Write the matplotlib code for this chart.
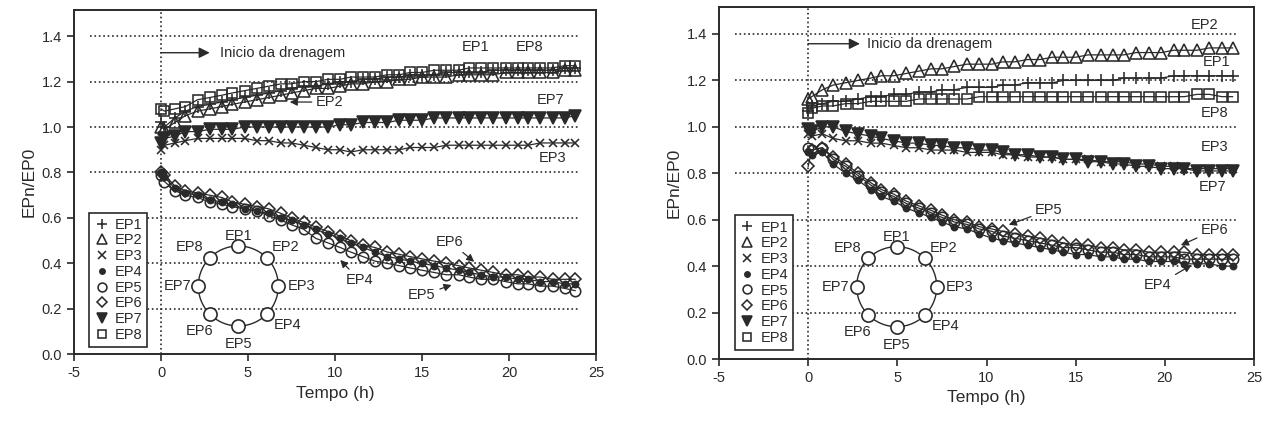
import matplotlib
matplotlib.use("Agg")
import matplotlib.pyplot as plt
import numpy as np

plt.rcParams['font.family'] = ['Liberation Sans', 'DejaVu Sans']
plt.rcParams['axes.unicode_minus'] = False

# tempo (h) das leituras
tempo = [0.0, 0.2, 0.8, 1.4, 2.1, 2.8, 3.5, 4.1, 4.8, 5.5, 6.2, 6.9, 7.5, 8.2, 8.9,
         9.6, 10.3, 10.9, 11.6, 12.3, 13.0, 13.7, 14.3, 15.0, 15.7, 16.4, 17.1, 17.7,
         18.4, 19.1, 19.8, 20.5, 21.1, 21.8, 22.5, 23.2, 23.8]

# ensaio da esquerda
ep1_a = [1.02, 1.00, 1.04, 1.07, 1.09, 1.10, 1.11, 1.12, 1.13, 1.14, 1.15, 1.16, 1.17, 1.18, 1.18,
         1.19, 1.20, 1.20, 1.21, 1.21, 1.22, 1.22, 1.23, 1.23, 1.23, 1.24, 1.24, 1.24, 1.24, 1.25,
         1.25, 1.25, 1.25, 1.25, 1.25, 1.26, 1.26]
ep2_a = [1.00, 0.99, 1.02, 1.05, 1.07, 1.08, 1.09, 1.10, 1.11, 1.12, 1.13, 1.14, 1.15, 1.16, 1.17,
         1.17, 1.18, 1.19, 1.19, 1.20, 1.20, 1.21, 1.21, 1.22, 1.22, 1.22, 1.23, 1.23, 1.23, 1.23,
         1.24, 1.24, 1.24, 1.24, 1.24, 1.25, 1.25]
ep3_a = [0.90, 0.92, 0.93, 0.94, 0.95, 0.95, 0.95, 0.95, 0.95, 0.94, 0.94, 0.93, 0.93, 0.92, 0.91,
         0.90, 0.90, 0.89, 0.90, 0.90, 0.90, 0.90, 0.91, 0.91, 0.91, 0.92, 0.92, 0.92, 0.92, 0.92,
         0.92, 0.92, 0.92, 0.93, 0.93, 0.93, 0.93]
ep4_a = [0.80, 0.78, 0.73, 0.71, 0.70, 0.68, 0.67, 0.66, 0.64, 0.63, 0.62, 0.60, 0.59, 0.57, 0.55,
         0.53, 0.51, 0.49, 0.47, 0.45, 0.43, 0.42, 0.41, 0.40, 0.39, 0.38, 0.37, 0.36, 0.35, 0.34,
         0.34, 0.33, 0.33, 0.32, 0.32, 0.31, 0.31]
ep5_a = [0.79, 0.76, 0.72, 0.70, 0.69, 0.67, 0.66, 0.65, 0.64, 0.63, 0.61, 0.59, 0.57, 0.55, 0.51,
         0.49, 0.47, 0.45, 0.43, 0.41, 0.40, 0.39, 0.38, 0.37, 0.36, 0.35, 0.35, 0.34, 0.33, 0.33,
         0.32, 0.31, 0.31, 0.30, 0.30, 0.29, 0.28]
ep6_a = [0.80, 0.79, 0.74, 0.72, 0.71, 0.70, 0.69, 0.67, 0.66, 0.65, 0.64, 0.62, 0.60, 0.58, 0.56,
         0.54, 0.52, 0.50, 0.48, 0.47, 0.45, 0.44, 0.43, 0.42, 0.41, 0.40, 0.39, 0.38, 0.37, 0.36,
         0.35, 0.35, 0.34, 0.34, 0.33, 0.33, 0.33]
ep7_a = [0.93, 0.95, 0.96, 0.98, 0.98, 0.99, 0.99, 0.99, 1.00, 1.00, 1.00, 1.00, 1.00, 1.00, 1.00,
         1.00, 1.01, 1.01, 1.02, 1.02, 1.02, 1.03, 1.03, 1.03, 1.04, 1.04, 1.04, 1.04, 1.04, 1.04,
         1.04, 1.04, 1.04, 1.04, 1.04, 1.04, 1.05]
ep8_a = [1.08, 1.07, 1.08, 1.09, 1.12, 1.13, 1.14, 1.15, 1.16, 1.17, 1.18, 1.19, 1.19, 1.20, 1.20,
         1.21, 1.21, 1.22, 1.22, 1.22, 1.23, 1.23, 1.24, 1.24, 1.25, 1.25, 1.25, 1.26, 1.26, 1.26,
         1.26, 1.26, 1.26, 1.26, 1.26, 1.27, 1.27]

# ensaio da direita
ep1_b = [1.07, 1.09, 1.10, 1.11, 1.11, 1.12, 1.13, 1.13, 1.14, 1.14, 1.15, 1.15, 1.16, 1.16, 1.17,
         1.17, 1.17, 1.18, 1.18, 1.19, 1.19, 1.19, 1.20, 1.20, 1.20, 1.20, 1.20, 1.21, 1.21, 1.21,
         1.21, 1.22, 1.22, 1.22, 1.22, 1.22, 1.22]
ep2_b = [1.12, 1.13, 1.16, 1.18, 1.19, 1.20, 1.21, 1.22, 1.22, 1.23, 1.24, 1.25, 1.25, 1.26, 1.27,
         1.27, 1.27, 1.28, 1.28, 1.29, 1.29, 1.30, 1.30, 1.30, 1.31, 1.31, 1.31, 1.31, 1.32, 1.32,
         1.32, 1.33, 1.33, 1.33, 1.34, 1.34, 1.34]
ep3_b = [0.97, 0.96, 0.97, 0.95, 0.94, 0.94, 0.93, 0.93, 0.92, 0.91, 0.91, 0.90, 0.90, 0.90, 0.89,
         0.89, 0.89, 0.88, 0.88, 0.87, 0.87, 0.87, 0.86, 0.86, 0.86, 0.85, 0.85, 0.85, 0.84, 0.84,
         0.83, 0.83, 0.82, 0.82, 0.82, 0.82, 0.82]
ep4_b = [0.89, 0.88, 0.89, 0.84, 0.80, 0.77, 0.73, 0.70, 0.68, 0.65, 0.63, 0.61, 0.59, 0.57, 0.56,
         0.54, 0.52, 0.51, 0.50, 0.49, 0.48, 0.47, 0.46, 0.45, 0.45, 0.44, 0.44, 0.43, 0.43, 0.42,
         0.42, 0.42, 0.41, 0.41, 0.41, 0.40, 0.40]
ep5_b = [0.91, 0.90, 0.91, 0.86, 0.83, 0.79, 0.75, 0.72, 0.70, 0.67, 0.65, 0.63, 0.61, 0.59, 0.58,
         0.56, 0.55, 0.53, 0.52, 0.51, 0.50, 0.49, 0.48, 0.48, 0.47, 0.46, 0.46, 0.45, 0.45, 0.44,
         0.44, 0.44, 0.43, 0.43, 0.43, 0.43, 0.43]
ep6_b = [0.83, 0.90, 0.91, 0.87, 0.84, 0.80, 0.76, 0.73, 0.71, 0.68, 0.66, 0.64, 0.62, 0.60, 0.59,
         0.57, 0.56, 0.55, 0.54, 0.53, 0.52, 0.51, 0.50, 0.49, 0.49, 0.48, 0.48, 0.47, 0.47, 0.46,
         0.46, 0.46, 0.46, 0.45, 0.45, 0.45, 0.45]
ep7_b = [0.99, 0.98, 1.00, 1.00, 0.98, 0.97, 0.96, 0.95, 0.94, 0.93, 0.93, 0.92, 0.92, 0.91, 0.91,
         0.90, 0.90, 0.89, 0.88, 0.88, 0.87, 0.87, 0.86, 0.86, 0.85, 0.85, 0.84, 0.84, 0.83, 0.83,
         0.82, 0.82, 0.82, 0.81, 0.81, 0.81, 0.81]
ep8_b = [1.06, 1.08, 1.09, 1.09, 1.10, 1.10, 1.11, 1.11, 1.11, 1.11, 1.12, 1.12, 1.12, 1.12, 1.12,
         1.13, 1.13, 1.13, 1.13, 1.13, 1.13, 1.13, 1.13, 1.13, 1.13, 1.13, 1.13, 1.13, 1.13, 1.13,
         1.13, 1.13, 1.13, 1.14, 1.14, 1.13, 1.13]

nomes = ['EP1', 'EP2', 'EP3', 'EP4', 'EP5', 'EP6', 'EP7', 'EP8']

INK = '#2a2a2a'
W, H = 1267, 423

# (marker, size, filled)
estilos = [('+', 9, False), ('^', 8, False), ('x', 6, False), ('o', 4.5, True),
           ('o', 7.5, False), ('D', 6, False), ('v', 8, True), ('s', 7, False)]


def draw_ring(fig, cx, cy):
    # pequeno esquema com os 8 piezometros, em pixels
    r = 40
    ax = fig.add_axes([(cx - 90) / W, (H - cy - 90) / H, 180 / W, 180 / H])
    ax.set_xlim(-90, 90)
    ax.set_ylim(-90, 90)
    ax.axis('off')
    ax.patch.set_alpha(0)
    ang = np.linspace(0, 2 * np.pi, 200)
    ax.plot(r * np.cos(ang), r * np.sin(ang), color=INK, lw=1.0)
    a8 = np.pi / 2 - np.arange(8) * np.pi / 4
    ax.plot(r * np.cos(a8), r * np.sin(a8), 'o', ms=9.5, mfc='white', mec=INK, mew=1.2)
    pos = [(0, 50, 'center'), (33, 39, 'left'), (49, 0, 'left'), (35, -39, 'left'),
           (0, -58, 'center'), (-25, -45, 'right'), (-47, 0, 'right'), (-35, 39, 'right')]
    for (x, y, ha), n in zip(pos, nomes):
        ax.text(x, y, n, ha=ha, va='center', fontsize=10.5, color=INK)


def painel(ax, series, rect_leg):
    for y, (m, s, f), n in zip(series, estilos, nomes):
        ax.plot(tempo, y, color=INK, lw=0.9, marker=m, ms=s,
                mfc=INK if f else 'none', mec=INK, mew=1.15, label=n)
    ax.set_xlim(-5, 25)
    ax.set_ylim(0, 1.515)
    ax.set_xticks([-5, 0, 5, 10, 15, 20, 25])
    ax.set_yticks(np.arange(0, 1.41, 0.2))
    ax.set_yticklabels(['0.0', '0.2', '0.4', '0.6', '0.8', '1.0', '1.2', '1.4'])
    for yv in np.arange(0.2, 1.41, 0.2):
        ax.axhline(yv, xmin=0.03, xmax=0.97, color=INK, ls=':', lw=1.2)
    ax.axvline(0, color=INK, ls=':', lw=1.2)
    for sp in ax.spines.values():
        sp.set_color(INK)
        sp.set_linewidth(1.4)
    ax.tick_params(direction='out', length=5, width=1.2, color=INK,
                   labelsize=10.5, labelcolor=INK)
    ax.set_xlabel('Tempo (h)', fontsize=12.5, color=INK)
    ax.set_ylabel('EPn/EP0', fontsize=12.5, color=INK)
    leg = ax.legend(loc='lower left', bbox_to_anchor=rect_leg, borderaxespad=0,
                    fontsize=10.5, handlelength=1.0, handletextpad=0.4, labelspacing=0.12,
                    borderpad=0.35, markerscale=0.85, fancybox=False, edgecolor=INK,
                    framealpha=1)
    leg.get_frame().set_linewidth(1.2)
    for h in leg.legend_handles:
        h.set_linestyle('none')
    for t in leg.get_texts():
        t.set_color(INK)


def seta(ax, txt, xytext, xy):
    ax.annotate(txt, xy=xy, xytext=xytext, ha='center', va='center', fontsize=10.5, color=INK,
                arrowprops=dict(arrowstyle='-|>', color=INK, lw=0.9, mutation_scale=11,
                                shrinkA=1, shrinkB=0))


fig = plt.figure(figsize=(W / 100, H / 100), dpi=100)
ax1 = fig.add_axes([74 / W, (H - 354.3) / H, 522 / W, 344.3 / H])
ax2 = fig.add_axes([719 / W, (H - 359) / H, 535 / W, 351.7 / H])

painel(ax1, [ep1_a, ep2_a, ep3_a, ep4_a, ep5_a, ep6_a, ep7_a, ep8_a], (0.029, 0.021))
painel(ax2, [ep1_b, ep2_b, ep3_b, ep4_b, ep5_b, ep6_b, ep7_b, ep8_b], (0.030, 0.026))

# inicio da drenagem
for ax, y, xa, xt in [(ax1, 1.327, 2.8, 3.4), (ax2, 1.358, 2.9, 3.3)]:
    ax.annotate('', xy=(xa, y), xytext=(0, y),
                arrowprops=dict(arrowstyle='-|>', color=INK, lw=1.0, mutation_scale=16,
                                shrinkA=0, shrinkB=0))
    ax.text(xt, y, 'Inicio da drenagem', ha='left', va='center', fontsize=10.5, color=INK)

for x, y, n in [(18.1, 1.353, 'EP1'), (21.2, 1.353, 'EP8'), (22.4, 1.12, 'EP7'), (22.5, 0.864, 'EP3')]:
    ax1.text(x, y, n, ha='center', va='center', fontsize=10.5, color=INK)
seta(ax1, 'EP2', (9.7, 1.11), (7.4, 1.11))
seta(ax1, 'EP4', (11.4, 0.327), (10.3, 0.415))
seta(ax1, 'EP6', (16.6, 0.495), (18.0, 0.407))
seta(ax1, 'EP5', (15.0, 0.26), (16.7, 0.305))

for x, y, n in [(22.2, 1.44, 'EP2'), (22.9, 1.28, 'EP1'), (22.8, 1.059, 'EP8'),
                (22.8, 0.915, 'EP3'), (22.7, 0.743, 'EP7')]:
    ax2.text(x, y, n, ha='center', va='center', fontsize=10.5, color=INK)
seta(ax2, 'EP5', (13.5, 0.642), (11.25, 0.578))
seta(ax2, 'EP6', (22.8, 0.556), (20.9, 0.49))
seta(ax2, 'EP4', (19.6, 0.319), (21.5, 0.405))

draw_ring(fig, 238.3, 286)
draw_ring(fig, 896.7, 286.7)

fig.savefig('out.png', dpi=100)
